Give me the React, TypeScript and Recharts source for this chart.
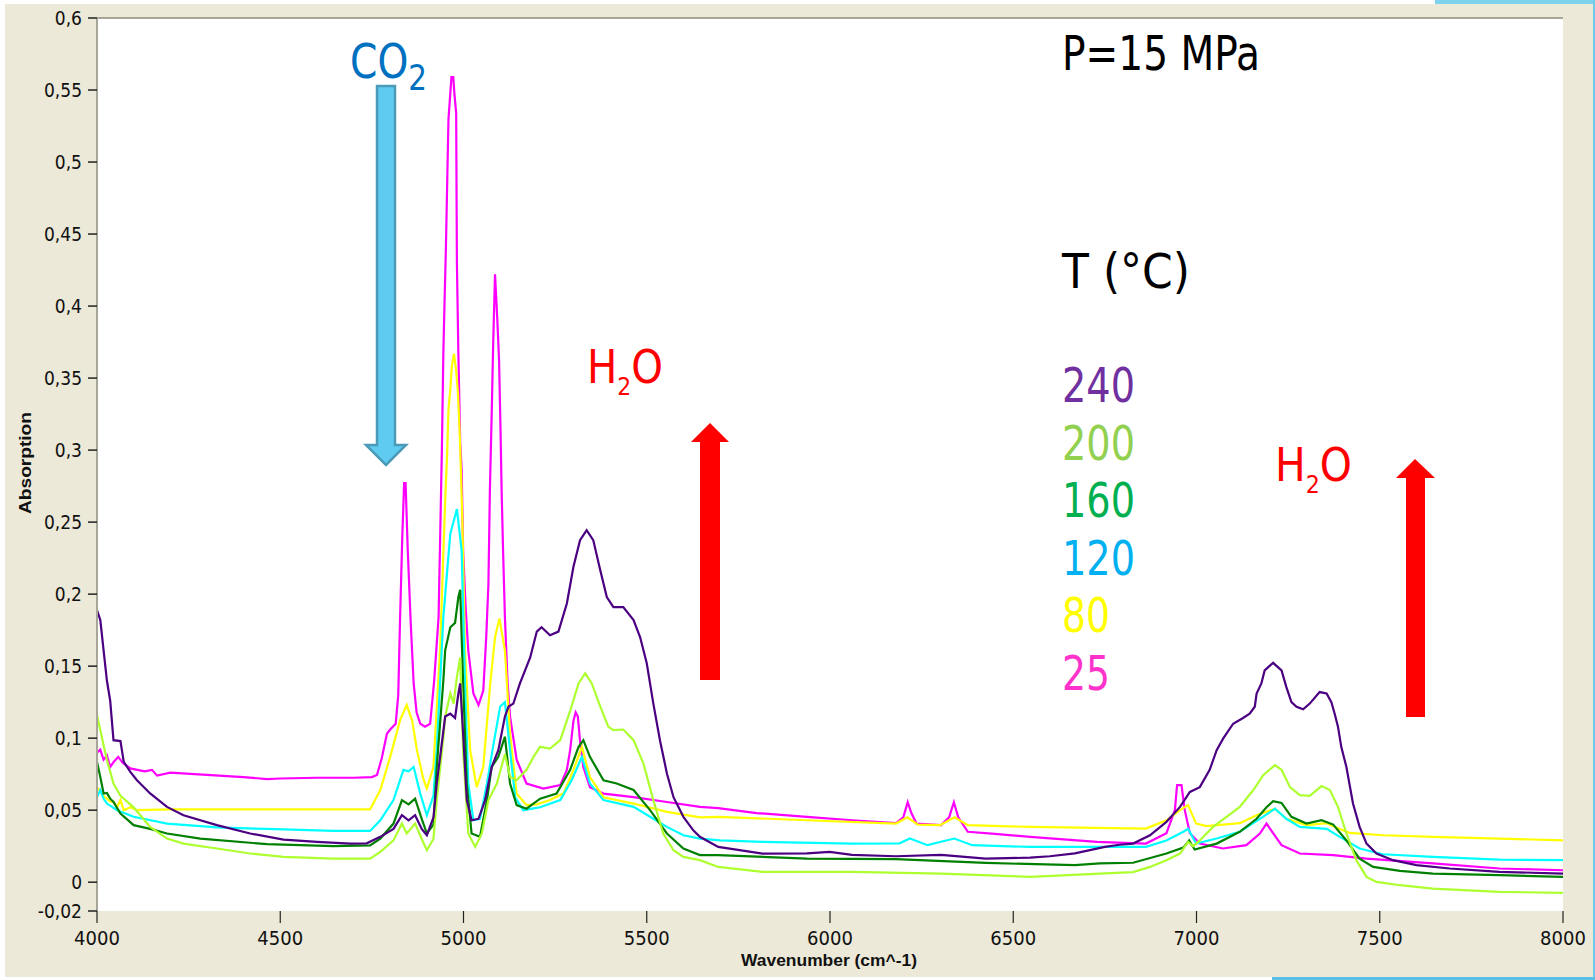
import React from 'react';
import { LineChart, Line, XAxis, YAxis, CartesianGrid, ReferenceLine } from 'recharts';

// ---------- data (wavenumber cm^-1 / absorption) ----------
const wn25 = [4000,4009,4018,4027,4036,4047,4058,4070,4091,4110,4130,4150,4164,4200,4300,4400,4464,4500,4600,4700,4750,4764,4777,4791,4800,4815,4822,4827,4833,4838,4842,4848,4856,4864,4872,4882,4895,4909,4920,4932,4941,4945,4948,4952,4955,4959,4963,4967,4972,4975,4980,4982,4986,4991,4995,4999,5006,5013,5027,5041,5054,5062,5068,5072,5077,5081,5086,5092,5097,5101,5104,5108,5113,5120,5127,5145,5172,5218,5264,5282,5291,5300,5306,5312,5318,5327,5345,5382,5464,5555,5645,5695,5800,5937,6060,6180,6200,6212,6222,6236,6303,6325,6338,6350,6376,6450,6546,6728,6862,6918,6941,6947,6959,6968,6982,7009,7072,7136,7173,7191,7209,7232,7282,7373,7464,7645,7827,8000];
const abs25 = [0.090,0.092,0.085,0.088,0.080,0.084,0.087,0.083,0.079,0.078,0.077,0.078,0.074,0.076,0.0745,0.073,0.0715,0.072,0.0725,0.0725,0.073,0.0745,0.086,0.103,0.106,0.110,0.130,0.184,0.240,0.277,0.277,0.230,0.180,0.138,0.118,0.110,0.108,0.110,0.140,0.184,0.300,0.367,0.400,0.440,0.479,0.530,0.544,0.559,0.559,0.548,0.534,0.430,0.367,0.305,0.286,0.230,0.190,0.161,0.131,0.123,0.133,0.170,0.207,0.272,0.326,0.374,0.422,0.392,0.3625,0.314,0.272,0.230,0.184,0.140,0.115,0.085,0.0685,0.065,0.0674,0.078,0.0917,0.112,0.118,0.115,0.098,0.080,0.066,0.0615,0.059,0.0557,0.0523,0.0514,0.048,0.0454,0.043,0.041,0.045,0.0555,0.048,0.0407,0.0396,0.045,0.0555,0.045,0.035,0.0335,0.0315,0.028,0.0268,0.034,0.050,0.0674,0.0674,0.050,0.034,0.0268,0.0234,0.0257,0.0338,0.0407,0.034,0.0257,0.0199,0.0188,0.0164,0.013,0.0095,0.0083];

const wn80 = [4000,4018,4036,4045,4055,4064,4073,4091,4110,4200,4400,4600,4745,4773,4800,4827,4845,4860,4873,4890,4900,4918,4936,4950,4955,4959,4964,4968,4974,4980,4985,4989,4993,4997,5004,5018,5036,5054,5073,5086,5098,5113,5127,5145,5172,5200,5236,5273,5300,5323,5345,5382,5464,5555,5645,5695,5937,6180,6211,6240,6300,6340,6376,6546,6862,6918,6955,6977,6999,7027,7118,7164,7214,7245,7300,7355,7391,7418,7509,7645,7827,8000];
const abs80 = [0.066,0.060,0.056,0.0557,0.052,0.057,0.050,0.052,0.050,0.0505,0.0505,0.0505,0.0505,0.064,0.087,0.1125,0.123,0.112,0.0917,0.072,0.065,0.080,0.161,0.265,0.295,0.328,0.342,0.358,0.367,0.355,0.3396,0.316,0.286,0.250,0.161,0.092,0.066,0.080,0.138,0.170,0.183,0.161,0.103,0.0615,0.0535,0.054,0.057,0.0617,0.078,0.094,0.073,0.059,0.0546,0.0488,0.045,0.0454,0.043,0.0407,0.045,0.040,0.0396,0.045,0.0396,0.0384,0.0372,0.043,0.050,0.0535,0.0407,0.039,0.041,0.0465,0.051,0.044,0.0396,0.041,0.037,0.0342,0.0326,0.0315,0.0303,0.029];

const wn120 = [4000,4009,4018,4027,4055,4100,4191,4327,4464,4645,4745,4773,4809,4836,4850,4864,4882,4900,4918,4927,4945,4964,4982,4995,5004,5013,5027,5045,5064,5082,5100,5113,5127,5141,5163,5209,5264,5295,5323,5345,5382,5464,5509,5555,5600,5645,5700,5816,6060,6190,6218,6266,6339,6388,6546,6862,6918,6964,6977,6999,7055,7118,7173,7214,7245,7282,7355,7391,7445,7509,7645,7827,8000];
const abs120 = [0.059,0.064,0.058,0.0546,0.050,0.0454,0.0407,0.038,0.037,0.0356,0.0356,0.043,0.057,0.078,0.077,0.080,0.0615,0.0465,0.060,0.0917,0.184,0.242,0.259,0.230,0.138,0.0686,0.043,0.044,0.0685,0.096,0.122,0.125,0.0917,0.059,0.050,0.052,0.057,0.0708,0.087,0.0685,0.057,0.0523,0.0454,0.0384,0.0326,0.0303,0.029,0.028,0.0268,0.027,0.0303,0.0257,0.0303,0.0257,0.0245,0.0245,0.029,0.035,0.037,0.0268,0.0303,0.035,0.044,0.051,0.044,0.0384,0.037,0.0315,0.0234,0.0194,0.0176,0.0157,0.0153];

const wn160 = [4000,4009,4018,4027,4036,4045,4064,4100,4145,4191,4282,4464,4645,4745,4773,4809,4832,4850,4868,4886,4900,4918,4927,4945,4950,4964,4977,4986,4991,4999,5009,5022,5045,5064,5077,5095,5113,5127,5145,5172,5209,5254,5291,5314,5327,5345,5382,5418,5464,5509,5555,5600,5645,5695,5937,6180,6425,6668,6736,6827,6918,6964,6980,6995,7055,7118,7164,7191,7209,7232,7259,7300,7341,7373,7409,7445,7482,7555,7645,7827,8000];
const abs160 = [0.0835,0.073,0.0616,0.062,0.058,0.0557,0.0477,0.0396,0.037,0.0338,0.0303,0.0264,0.025,0.0255,0.0303,0.0407,0.057,0.054,0.058,0.044,0.0338,0.040,0.080,0.140,0.161,0.177,0.180,0.198,0.203,0.138,0.0685,0.0338,0.0315,0.057,0.080,0.087,0.101,0.0685,0.0535,0.051,0.058,0.0615,0.078,0.094,0.0986,0.087,0.0708,0.0685,0.064,0.050,0.0338,0.0234,0.0188,0.0188,0.0164,0.016,0.0134,0.0118,0.013,0.0135,0.0199,0.024,0.029,0.0227,0.0268,0.035,0.044,0.052,0.0562,0.055,0.0454,0.0407,0.043,0.040,0.029,0.0164,0.0106,0.0078,0.006,0.0049,0.0037];

const wn200 = [4000,4009,4018,4027,4045,4064,4100,4145,4191,4236,4327,4418,4509,4645,4745,4773,4809,4832,4845,4868,4886,4900,4918,4927,4945,4950,4964,4973,4982,4991,4999,5013,5032,5050,5068,5091,5113,5127,5145,5172,5191,5209,5236,5264,5291,5314,5332,5350,5373,5395,5409,5436,5464,5491,5518,5545,5573,5600,5645,5695,5816,6060,6303,6546,6736,6827,6873,6918,6955,6977,6991,7009,7045,7082,7118,7155,7182,7214,7232,7255,7282,7309,7341,7364,7386,7409,7436,7464,7491,7555,7645,7827,8000];
const abs200 = [0.116,0.1056,0.095,0.085,0.0685,0.060,0.052,0.0384,0.0303,0.0268,0.0234,0.0199,0.0176,0.0164,0.0164,0.021,0.029,0.0407,0.0338,0.0407,0.030,0.0222,0.030,0.057,0.100,0.115,0.131,0.124,0.1426,0.156,0.0917,0.0338,0.0245,0.0338,0.057,0.0685,0.089,0.073,0.0708,0.078,0.087,0.094,0.0928,0.0986,0.119,0.138,0.145,0.138,0.122,0.108,0.1056,0.106,0.0986,0.0824,0.057,0.0338,0.0222,0.0176,0.0153,0.0106,0.0072,0.0072,0.006,0.0037,0.006,0.007,0.0106,0.0153,0.0199,0.028,0.025,0.029,0.0384,0.0454,0.0523,0.064,0.0743,0.0813,0.078,0.066,0.0604,0.060,0.0667,0.064,0.0523,0.0338,0.0153,0.0037,0.0002,-0.0021,-0.0044,-0.0067,-0.0074];

const wn240 = [4000,4009,4018,4027,4036,4045,4064,4073,4091,4109,4145,4191,4236,4327,4418,4509,4600,4691,4736,4773,4809,4832,4850,4868,4886,4900,4918,4927,4950,4964,4977,4986,4991,4999,5009,5022,5041,5059,5077,5095,5113,5123,5136,5154,5182,5200,5213,5236,5259,5282,5300,5318,5336,5354,5373,5391,5409,5436,5464,5482,5500,5518,5536,5555,5573,5600,5627,5645,5695,5816,5937,5999,6060,6180,6303,6425,6546,6600,6668,6750,6790,6827,6873,6918,6955,6982,7009,7036,7055,7073,7100,7127,7145,7159,7164,7177,7186,7209,7232,7245,7259,7273,7291,7309,7336,7355,7368,7377,7386,7395,7409,7427,7445,7464,7491,7536,7600,7691,7827,8000];
const abs240 = [0.189,0.182,0.161,0.140,0.126,0.0986,0.098,0.0835,0.0766,0.0708,0.0616,0.0523,0.0465,0.0396,0.0338,0.0296,0.028,0.0268,0.027,0.0315,0.037,0.0465,0.043,0.0465,0.037,0.0326,0.045,0.0685,0.115,0.117,0.114,0.131,0.138,0.103,0.057,0.043,0.044,0.057,0.080,0.0917,0.115,0.122,0.124,0.138,0.156,0.174,0.177,0.1715,0.174,0.1935,0.219,0.2375,0.2444,0.2375,0.2167,0.198,0.191,0.191,0.182,0.170,0.152,0.124,0.0986,0.0755,0.059,0.0454,0.036,0.0315,0.0245,0.0199,0.020,0.021,0.019,0.018,0.019,0.0164,0.017,0.018,0.020,0.0245,0.026,0.0268,0.0326,0.0419,0.0523,0.0627,0.066,0.078,0.0917,0.0998,0.110,0.114,0.117,0.1218,0.131,0.138,0.147,0.1523,0.147,0.1356,0.125,0.1218,0.120,0.124,0.132,0.131,0.125,0.117,0.108,0.094,0.080,0.0546,0.0384,0.0268,0.0199,0.0153,0.0118,0.0095,0.0072,0.006];

const xTicks = [4000, 4500, 5000, 5500, 6000, 6500, 7000, 7500, 8000];
const yTicks = [-0.02, 0, 0.05, 0.1, 0.15, 0.2, 0.25, 0.3, 0.35, 0.4, 0.45, 0.5, 0.55, 0.6];

const tempLabels = ['240', '200', '160', '120', '80', '25'];
const tempLabelColors = ['#7030A0', '#92D050', '#00B050', '#00B0F0', '#FFFF00', '#FF33CC'];

// series drawn in this order
const seriesNames = ['25', '80', '120', '160', '200', '240'];
const seriesColors = ['#FF00FF', '#FFFF00', '#00FFFF', '#008000', '#ADFF2F', '#4B0082'];
const seriesWn = [wn25, wn80, wn120, wn160, wn200, wn240];
const seriesAbs = [abs25, abs80, abs120, abs160, abs200, abs240];

const series = seriesNames.map((name, i) => ({
  name,
  color: seriesColors[i],
  data: seriesWn[i].map((w, j) => ({ w, a: seriesAbs[i][j] })),
}));

const axisFont = "'Liberation Sans Narrow', 'Arial Narrow', 'DejaVu Sans Condensed', 'Liberation Sans', sans-serif";
const boldFont = "'Liberation Sans', Arial, sans-serif";
const slideFont = "'DejaVu Sans', Verdana, sans-serif";

const fmtY = (v: number) => String(v).replace('.', ',');

export default function App() {
  return (
    <div style={{ position: 'absolute', left: 0, top: 0, width: 1595, height: 980, background: '#ffffff', overflow: 'hidden' }}>
      <div style={{ position: 'absolute', left: 5, top: 4, width: 1588, height: 973, background: '#ECE9D8' }} />
      <div style={{ position: 'absolute', left: 0, top: 0 }}>
        <LineChart width={1595} height={980} margin={{ top: 18, right: 32, bottom: 0, left: 0 }}>
          <CartesianGrid fill="#ffffff" stroke="none" horizontal={false} vertical={false} />
          <XAxis
            dataKey="w"
            type="number"
            domain={[4000, 8000]}
            ticks={xTicks}
            interval={0}
            allowDataOverflow
            height={69}
            axisLine={false}
            tickSize={12}
            tickMargin={8}
            tickLine={{ stroke: '#222', strokeWidth: 1.2 }}
            tick={{ fontSize: 20, fill: '#111', fontFamily: axisFont }}
          />
          <YAxis
            type="number"
            domain={[-0.02, 0.6]}
            ticks={yTicks}
            interval={0}
            allowDataOverflow
            width={97}
            tickFormatter={fmtY}
            axisLine={{ stroke: '#A8A698', strokeWidth: 2 }}
            tickSize={9}
            tickMargin={6}
            tickLine={{ stroke: '#222', strokeWidth: 1.5 }}
            tick={{ fontSize: 19, fill: '#111', fontFamily: axisFont }}
          />
          <ReferenceLine y={0.6} stroke="#A8A698" strokeWidth={2} ifOverflow="visible" />
          {series.map((s) => (
            <Line
              key={s.name}
              data={s.data}
              dataKey="a"
              type="linear"
              stroke={s.color}
              strokeWidth={2.2}
              dot={false}
              activeDot={false}
              isAnimationActive={false}
            />
          ))}
        </LineChart>
      </div>
      <svg width={1595} height={980} style={{ position: 'absolute', left: 0, top: 0, pointerEvents: 'none' }}>
        {/* slide decorations */}
        <rect x={1435} y={0} width={160} height={4} fill="#7DD3EE" />
        <rect x={1593} y={0} width={2} height={980} fill="#6FCBEA" />
        <rect x={1272} y={977} width={323} height={3} fill="#5BC0E8" />

        {/* axis titles */}
        <text
          x={0}
          y={0}
          transform="translate(31,463) rotate(-90)"
          textAnchor="middle"
          fontFamily={boldFont}
          fontWeight="bold"
          fontSize={16}
          fill="#111"
          textLength={102}
          lengthAdjust="spacingAndGlyphs"
        >
          Absorption
        </text>
        <text
          x={741}
          y={966}
          fontFamily={boldFont}
          fontWeight="bold"
          fontSize={16.5}
          fill="#111"
          textLength={176}
          lengthAdjust="spacingAndGlyphs"
        >
          Wavenumber (cm^-1)
        </text>

        {/* CO2 label and arrow */}
        <text x={350} y={78} fontFamily={slideFont} fontSize={48} fill="#0070C0" textLength={77} lengthAdjust="spacingAndGlyphs">
          CO<tspan fontSize={36} dy={12}>2</tspan>
        </text>
        <polygon
          points="377,86 395,86 395,445 406,445 386,465 366,445 377,445"
          fill="#5FCBF0"
          stroke="#4A9AB8"
          strokeWidth={2.5}
          strokeLinejoin="miter"
        />

        {/* H2O left */}
        <text x={587} y={383} fontFamily={slideFont} fontSize={46} fill="#FF0000" textLength={76} lengthAdjust="spacingAndGlyphs">
          H<tspan fontSize={25} dy={12}>2</tspan><tspan fontSize={46} dy={-12}>O</tspan>
        </text>
        <polygon points="700,442 720,442 720,680 700,680" fill="#FF0000" />
        <polygon points="691,442 710,423 729,442" fill="#FF0000" />

        {/* H2O right */}
        <text x={1275} y={481} fontFamily={slideFont} fontSize={46} fill="#FF0000" textLength={77} lengthAdjust="spacingAndGlyphs">
          H<tspan fontSize={25} dy={12}>2</tspan><tspan fontSize={46} dy={-12}>O</tspan>
        </text>
        <polygon points="1406,477 1425,477 1425,717 1406,717" fill="#FF0000" />
        <polygon points="1396,478 1415,459 1435,478" fill="#FF0000" />

        {/* pressure / temperature legend */}
        <text x={1062} y={70} fontFamily={slideFont} fontSize={48} fill="#000" textLength={198} lengthAdjust="spacingAndGlyphs">P=15 MPa</text>
        <text x={1062} y={288} fontFamily={slideFont} fontSize={48} fill="#000" textLength={128} lengthAdjust="spacingAndGlyphs">T (°C)</text>
        {tempLabels.map((t, i) => (
          <text
            key={t}
            x={1062}
            y={402 + i * 57.6}
            fontFamily={slideFont}
            fontSize={48}
            fill={tempLabelColors[i]}
            textLength={t.length === 3 ? 73 : 48}
            lengthAdjust="spacingAndGlyphs"
          >
            {t}
          </text>
        ))}
      </svg>
    </div>
  );
}
